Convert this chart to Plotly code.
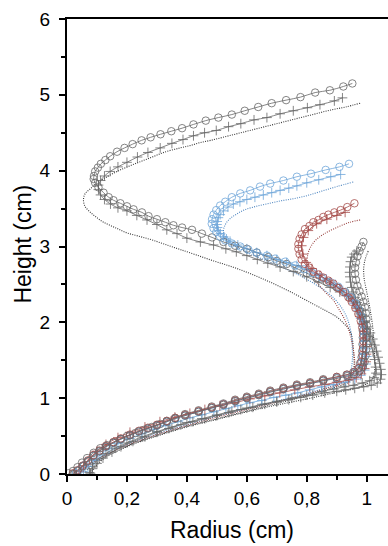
import plotly.graph_objects as go

# ---------------- data (radius in cm, height in cm) ----------------
# Large black drop: circles / plus / dotted
KC_r = [0.952,0.922,0.877,0.828,0.779,0.731,0.683,0.638,0.593,0.550,0.505,0.463,0.422,0.384,0.348,0.312,0.279,0.249,0.219,0.192,0.167,0.144,0.128,0.113,0.103,0.094,0.090,0.089,0.094,0.105,0.122,0.139,0.155,0.178,0.200,0.222,0.250,0.272,0.300,0.328,0.355,0.384,0.417,0.450,0.484,0.522,0.561,0.600,0.633,0.672,0.700,0.733,0.772,0.800,0.833,0.867,0.900,0.928,0.950,0.967,0.978,0.983,0.986,0.987,0.987,0.986,0.985,0.983,0.978,0.972,0.955,0.933,0.900,0.855,0.811,0.767,0.722,0.678,0.640,0.600,0.561,0.522,0.483,0.439,0.394,0.361,0.333,0.311,0.283,0.255,0.228,0.200,0.178,0.155,0.133,0.111,0.089,0.067,0.050,0.035,0.020,0.005]
KC_h = [5.15,5.11,5.06,5.03,4.97,4.93,4.89,4.84,4.79,4.74,4.70,4.66,4.61,4.56,4.52,4.48,4.44,4.40,4.35,4.30,4.25,4.19,4.14,4.09,4.04,3.99,3.93,3.89,3.84,3.78,3.71,3.65,3.61,3.57,3.53,3.49,3.45,3.40,3.36,3.32,3.28,3.25,3.22,3.17,3.12,3.06,3.01,2.97,2.92,2.86,2.81,2.77,2.70,2.65,2.58,2.53,2.46,2.40,2.33,2.24,2.15,2.07,1.98,1.89,1.80,1.71,1.62,1.54,1.46,1.39,1.34,1.31,1.28,1.25,1.21,1.18,1.14,1.10,1.06,1.02,0.98,0.93,0.89,0.84,0.79,0.74,0.70,0.66,0.62,0.58,0.54,0.50,0.46,0.42,0.38,0.34,0.28,0.21,0.15,0.09,0.04,0.01]

KP_r = [0.919,0.892,0.844,0.802,0.755,0.711,0.667,0.624,0.580,0.539,0.498,0.459,0.422,0.387,0.350,0.311,0.270,0.235,0.200,0.170,0.144,0.125,0.112,0.105,0.105,0.112,0.125,0.145,0.170,0.200,0.233,0.267,0.300,0.333,0.367,0.400,0.445,0.489,0.530,0.565,0.600,0.635,0.670,0.711,0.755,0.800,0.840,0.878,0.910,0.933,0.952,0.965,0.978,0.990,1.000,1.008,1.015,1.021,1.026,1.030,1.031,1.025,1.010,0.985,0.955,0.925,0.890,0.850,0.800,0.750,0.700,0.650,0.600,0.550,0.500,0.450,0.400,0.350,0.300,0.250,0.200,0.160,0.130,0.100,0.085,0.075]
KP_h = [4.96,4.92,4.87,4.83,4.79,4.75,4.70,4.67,4.62,4.58,4.53,4.50,4.46,4.41,4.36,4.30,4.24,4.18,4.11,4.05,3.99,3.93,3.87,3.81,3.75,3.68,3.62,3.56,3.51,3.47,3.41,3.35,3.29,3.22,3.17,3.11,3.06,3.02,2.97,2.93,2.88,2.83,2.78,2.73,2.67,2.60,2.53,2.46,2.40,2.35,2.28,2.20,2.11,2.01,1.91,1.81,1.71,1.61,1.51,1.41,1.33,1.27,1.23,1.20,1.17,1.15,1.12,1.09,1.04,1.00,0.96,0.92,0.87,0.83,0.78,0.73,0.68,0.62,0.56,0.49,0.41,0.34,0.27,0.18,0.10,0.02]

KD_r = [0.978,0.930,0.880,0.830,0.780,0.730,0.680,0.630,0.580,0.530,0.480,0.444,0.410,0.378,0.330,0.278,0.220,0.167,0.125,0.100,0.078,0.061,0.055,0.060,0.078,0.100,0.122,0.160,0.200,0.245,0.289,0.340,0.378,0.430,0.489,0.545,0.600,0.655,0.711,0.766,0.822,0.865,0.900,0.925,0.944,0.952,0.955,0.957,0.958,0.955,0.947,0.935,0.900,0.850,0.800,0.700,0.600,0.500,0.400,0.300,0.200,0.120,0.080,0.060]
KD_h = [4.89,4.84,4.80,4.75,4.70,4.65,4.60,4.55,4.50,4.45,4.40,4.37,4.33,4.30,4.25,4.17,4.08,3.99,3.90,3.84,3.76,3.70,3.62,3.53,3.45,3.38,3.32,3.25,3.18,3.13,3.08,3.01,2.96,2.89,2.81,2.74,2.66,2.57,2.47,2.36,2.24,2.15,2.07,1.98,1.89,1.78,1.67,1.55,1.44,1.33,1.25,1.20,1.15,1.09,1.03,0.93,0.83,0.73,0.63,0.51,0.37,0.22,0.11,0.02]

# Blue drop
BC_r = [0.941,0.909,0.863,0.814,0.767,0.722,0.678,0.644,0.611,0.578,0.550,0.528,0.511,0.498,0.489,0.484,0.483,0.489,0.498,0.511,0.528,0.550,0.578,0.605,0.633,0.667,0.694,0.728,0.761,0.790,0.820,0.850,0.878,0.905,0.928,0.948,0.963,0.975,0.983,0.988,0.990,0.990,0.989,0.988,0.986,0.982,0.975,0.960,0.935,0.900,0.855,0.811,0.767,0.722,0.678,0.640,0.600,0.561,0.522,0.483,0.439,0.394,0.361,0.333,0.300,0.270,0.240,0.210,0.180,0.155,0.130,0.108,0.088,0.070,0.055,0.040,0.030]
BC_h = [4.09,4.05,4.01,3.96,3.92,3.87,3.83,3.79,3.74,3.70,3.65,3.59,3.54,3.48,3.42,3.36,3.30,3.24,3.19,3.13,3.08,3.04,3.00,2.96,2.92,2.88,2.84,2.80,2.75,2.70,2.65,2.59,2.53,2.47,2.40,2.33,2.25,2.16,2.07,1.98,1.89,1.80,1.71,1.62,1.54,1.46,1.39,1.34,1.30,1.27,1.23,1.19,1.16,1.12,1.08,1.04,1.00,0.96,0.92,0.87,0.82,0.77,0.73,0.69,0.64,0.60,0.56,0.51,0.46,0.41,0.36,0.30,0.24,0.17,0.11,0.05,0.01]

BP_r = [0.913,0.880,0.840,0.800,0.767,0.740,0.711,0.683,0.655,0.627,0.600,0.577,0.555,0.537,0.522,0.511,0.505,0.501,0.500,0.502,0.505,0.512,0.522,0.532,0.544,0.570,0.600,0.633,0.667,0.700,0.733,0.767,0.800,0.833,0.866,0.895,0.920,0.940,0.957,0.970,0.980,0.988,0.994,0.998,1.000,1.000,0.998,0.993,0.980,0.960,0.930,0.890,0.850,0.810,0.770,0.730,0.690,0.650,0.610,0.570,0.530,0.490,0.450,0.410,0.370,0.330,0.290,0.250,0.210,0.170,0.140,0.110,0.090,0.070,0.055]
BP_h = [3.95,3.92,3.88,3.84,3.80,3.77,3.74,3.71,3.68,3.65,3.62,3.59,3.56,3.52,3.47,3.42,3.38,3.33,3.29,3.25,3.21,3.17,3.13,3.10,3.07,3.02,2.97,2.92,2.88,2.83,2.79,2.75,2.70,2.64,2.57,2.50,2.42,2.34,2.25,2.15,2.05,1.95,1.85,1.75,1.65,1.55,1.45,1.37,1.30,1.25,1.21,1.18,1.15,1.11,1.07,1.04,1.01,0.97,0.94,0.90,0.86,0.82,0.78,0.74,0.69,0.64,0.59,0.53,0.47,0.40,0.33,0.25,0.18,0.10,0.03]

BD_r = [0.955,0.900,0.850,0.800,0.755,0.711,0.665,0.622,0.590,0.567,0.548,0.533,0.525,0.522,0.526,0.533,0.548,0.567,0.592,0.622,0.655,0.689,0.722,0.755,0.790,0.825,0.860,0.890,0.915,0.932,0.943,0.950,0.952,0.952,0.948,0.940,0.925,0.900,0.850,0.800,0.700,0.600,0.500,0.400,0.300,0.200,0.120,0.070,0.040]
BD_h = [3.85,3.79,3.73,3.67,3.63,3.60,3.56,3.52,3.48,3.43,3.38,3.32,3.26,3.21,3.15,3.10,3.04,2.99,2.94,2.88,2.83,2.77,2.72,2.66,2.59,2.51,2.42,2.32,2.20,2.08,1.95,1.80,1.65,1.50,1.38,1.30,1.23,1.18,1.12,1.06,0.96,0.86,0.76,0.65,0.53,0.39,0.24,0.12,0.03]

# Red drop
RC_r = [0.959,0.935,0.913,0.892,0.872,0.855,0.839,0.822,0.809,0.794,0.783,0.776,0.772,0.772,0.776,0.783,0.794,0.809,0.822,0.839,0.855,0.872,0.889,0.906,0.922,0.939,0.950,0.962,0.972,0.980,0.985,0.988,0.989,0.988,0.986,0.982,0.975,0.960,0.935,0.900,0.855,0.811,0.767,0.722,0.678,0.640,0.600,0.561,0.522,0.483,0.439,0.394,0.361,0.333,0.300,0.270,0.240,0.210,0.180,0.155,0.130,0.108,0.088,0.070,0.052,0.035,0.020]
RC_h = [3.57,3.52,3.48,3.45,3.42,3.39,3.35,3.32,3.27,3.23,3.16,3.10,3.03,2.97,2.90,2.83,2.77,2.72,2.67,2.63,2.59,2.55,2.51,2.45,2.40,2.33,2.27,2.19,2.11,2.02,1.93,1.84,1.75,1.66,1.57,1.48,1.40,1.35,1.31,1.28,1.24,1.20,1.17,1.13,1.09,1.05,1.01,0.97,0.92,0.88,0.83,0.78,0.74,0.70,0.65,0.61,0.57,0.52,0.47,0.42,0.37,0.31,0.25,0.18,0.11,0.05,0.01]

RP_r = [0.928,0.900,0.867,0.833,0.805,0.789,0.783,0.787,0.798,0.817,0.844,0.878,0.911,0.939,0.955,0.967,0.977,0.985,0.991,0.995,0.998,0.999,0.998,0.993,0.982,0.965,0.940,0.900,0.860,0.810,0.760,0.710,0.660,0.610,0.560,0.510,0.460,0.410,0.360,0.310,0.260,0.210,0.170,0.130,0.100,0.075,0.055,0.040]
RP_h = [3.45,3.41,3.36,3.30,3.21,3.12,3.01,2.90,2.79,2.71,2.62,2.53,2.44,2.36,2.27,2.18,2.08,1.98,1.88,1.78,1.68,1.58,1.48,1.39,1.32,1.27,1.24,1.21,1.18,1.15,1.11,1.07,1.03,0.99,0.94,0.90,0.85,0.80,0.75,0.69,0.62,0.55,0.48,0.39,0.30,0.20,0.11,0.03]

RD_r = [0.978,0.944,0.900,0.855,0.822,0.805,0.802,0.811,0.833,0.861,0.889,0.906,0.925,0.940,0.950,0.957,0.960,0.958,0.950,0.935,0.900,0.850,0.800,0.700,0.600,0.500,0.400,0.300,0.200,0.120,0.070,0.045]
RD_h = [3.35,3.32,3.25,3.16,3.05,2.92,2.79,2.66,2.53,2.40,2.29,2.18,2.05,1.90,1.75,1.60,1.47,1.37,1.29,1.22,1.17,1.11,1.05,0.95,0.85,0.75,0.64,0.52,0.38,0.23,0.11,0.03]

# Small black drop
SC_r = [0.989,0.983,0.976,0.969,0.964,0.961,0.961,0.964,0.969,0.976,0.983,0.989,0.994,0.997,0.999,1.000,1.000,1.000,0.999,0.998,0.996,0.993,0.987,0.976,0.958,0.935,0.900,0.855,0.811,0.767,0.722,0.678,0.640,0.600,0.561,0.522,0.483,0.439,0.394,0.361,0.333,0.300,0.270,0.240,0.210,0.180,0.155,0.130,0.108,0.088,0.070,0.052,0.035,0.020]
SC_h = [3.06,3.00,2.94,2.87,2.79,2.72,2.64,2.56,2.48,2.41,2.34,2.27,2.20,2.12,2.04,1.96,1.88,1.80,1.72,1.64,1.56,1.48,1.41,1.36,1.32,1.29,1.26,1.23,1.19,1.16,1.12,1.08,1.04,1.00,0.96,0.91,0.87,0.82,0.77,0.73,0.69,0.64,0.60,0.56,0.51,0.46,0.41,0.36,0.30,0.24,0.17,0.10,0.04,0.00]

SP_r = [0.967,0.958,0.950,0.946,0.944,0.943,0.944,0.946,0.950,0.955,0.961,0.968,0.976,0.985,0.994,1.003,1.012,1.020,1.027,1.033,1.038,1.043,1.047,1.049,1.046,1.035,1.015,0.990,0.960,0.930,0.900,0.860,0.820,0.780,0.740,0.700,0.660,0.620,0.580,0.540,0.500,0.460,0.420,0.380,0.340,0.300,0.260,0.220,0.180,0.150,0.120,0.100,0.085,0.078]
SP_h = [2.94,2.90,2.86,2.80,2.73,2.66,2.60,2.53,2.46,2.40,2.33,2.26,2.18,2.10,2.02,1.94,1.86,1.78,1.70,1.62,1.54,1.46,1.38,1.31,1.25,1.20,1.17,1.15,1.13,1.11,1.09,1.07,1.04,1.01,0.98,0.95,0.92,0.88,0.85,0.81,0.77,0.73,0.69,0.65,0.60,0.55,0.49,0.43,0.36,0.29,0.21,0.14,0.07,0.01]

SD_r = [1.005,0.998,0.993,0.990,0.990,0.992,0.996,1.000,1.005,1.010,1.014,1.018,1.021,1.023,1.025,1.026,1.027,1.027,1.024,1.015,1.000,0.970,0.930,0.880,0.800,0.700,0.600,0.500,0.400,0.300,0.200,0.130,0.100,0.085,0.078]
SD_h = [2.94,2.87,2.80,2.72,2.64,2.56,2.48,2.40,2.30,2.20,2.10,2.00,1.90,1.80,1.70,1.60,1.50,1.40,1.31,1.24,1.19,1.14,1.10,1.06,0.99,0.91,0.82,0.72,0.62,0.50,0.36,0.22,0.12,0.04,0.00]

# axis ticks
X_TICKS = [0, 0.2, 0.4, 0.6, 0.8, 1.0]
X_LABELS = ["0", "0,2", "0,4", "0,6", "0,8", "1"]
Y_TICKS = [0, 1, 2, 3, 4, 5, 6]
Y_LABELS = ["0", "1", "2", "3", "4", "5", "6"]

# ---------------- styles ----------------
GREY = "#666666"
DARK = "#3a3a3a"
BLUE = "#6ea6d9"
RED = "#a54a48"
DBLUE = "#4f86c0"
DRED = "#98403e"

series = [
    (KD_r, KD_h, DARK, "dot"), (BD_r, BD_h, DBLUE, "dot"),
    (RD_r, RD_h, DRED, "dot"), (SD_r, SD_h, DARK, "dot"),
    (KP_r, KP_h, GREY, "plus"), (BP_r, BP_h, BLUE, "plus"),
    (RP_r, RP_h, RED, "plus"), (SP_r, SP_h, GREY, "plus"),
    (KC_r, KC_h, GREY, "circ"), (BC_r, BC_h, BLUE, "circ"),
    (RC_r, RC_h, RED, "circ"), (SC_r, SC_h, GREY, "circ"),
]

fig = go.Figure()
for r, h, col, kind in series:
    if kind == "dot":
        fig.add_trace(go.Scatter(x=r, y=h, mode="lines",
                                 line=dict(color=col, width=1.1, dash="1px,1.3px", shape="spline"),
                                 showlegend=False, hoverinfo="skip"))
    elif kind == "plus":
        fig.add_trace(go.Scatter(x=r, y=h, mode="lines+markers", line=dict(color=col, width=0.8, shape="spline"),
                                 marker=dict(symbol="cross-thin-open", size=7, line=dict(color=col, width=0.8)),
                                 showlegend=False, hoverinfo="skip"))
    else:
        fig.add_trace(go.Scatter(x=r, y=h, mode="lines+markers", line=dict(color=col, width=0.8, shape="spline"),
                                 marker=dict(symbol="circle-open", size=7.5, color=col, line=dict(color=col, width=0.8)),
                                 showlegend=False, hoverinfo="skip"))

FONT = "Liberation Sans, Arial, sans-serif"
fig.update_layout(
    width=388, height=546,
    margin=dict(l=67, r=0, t=19, b=72, autoexpand=False),
    paper_bgcolor="white", plot_bgcolor="white",
    font=dict(family=FONT, color="black"),
    xaxis=dict(range=[0, 1.071], tickvals=X_TICKS, ticktext=X_LABELS, showgrid=False, zeroline=False,
               automargin=False,
               showline=True, linecolor="black", linewidth=2, mirror=True,
               ticks="outside", ticklen=6, tickwidth=1.5, tickcolor="black",
               tickfont=dict(size=19, family=FONT),
               minor=dict(tickvals=[0.1, 0.3, 0.5, 0.7, 0.9], ticks="outside", ticklen=4, tickwidth=1.5, tickcolor="black")),
    yaxis=dict(range=[0, 6], tickvals=Y_TICKS, ticktext=Y_LABELS, showgrid=False, zeroline=False,
               automargin=False, ticklabelstandoff=5,
               showline=True, linecolor="black", linewidth=2,
               ticks="outside", ticklen=6, tickwidth=1.5, tickcolor="black",
               tickfont=dict(size=19, family=FONT),
               minor=dict(tickvals=[0.5, 1.5, 2.5, 3.5, 4.5, 5.5], ticks="outside", ticklen=4, tickwidth=1.5, tickcolor="black")),
    annotations=[
        dict(text="Radius (cm)", xref="paper", yref="paper", x=0.513, y=-0.124, showarrow=False,
             xanchor="center", yanchor="middle", font=dict(size=23, family=FONT, color="black")),
        dict(text="Height (cm)", xref="paper", yref="paper", x=-0.136, y=0.505, showarrow=False, textangle=-90,
             xanchor="center", yanchor="middle", font=dict(size=23, family=FONT, color="black")),
    ],
)

fig.write_html("out.html", config={"displayModeBar": False},
               post_script="document.body.style.margin='0px';")
